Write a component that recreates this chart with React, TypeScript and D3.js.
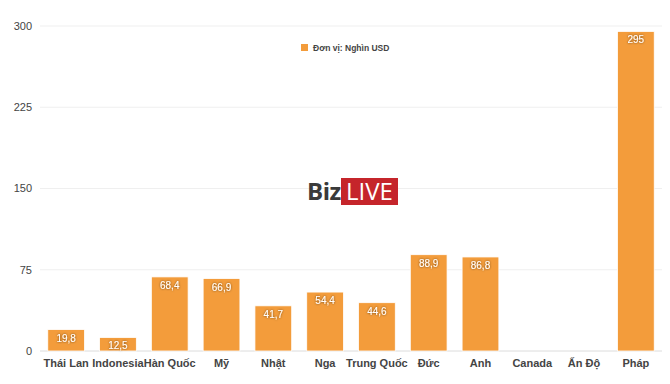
import React from "react";
import * as d3 from "d3";

const categories = ["Thái Lan", "Indonesia", "Hàn Quốc", "Mỹ", "Nhật", "Nga", "Trung Quốc", "Đức", "Anh", "Canada", "Ấn Độ", "Pháp"];
const values: (number | null)[] = [19.8, 12.5, 68.4, 66.9, 41.7, 54.4, 44.6, 88.9, 86.8, null, null, 295];
const yTicks = [0, 75, 150, 225, 300];
const legendLabel = "Đơn vị: Nghìn USD";

const W = 670, H = 384;
const margin = { left: 40, right: 8, top: 26, bottom: 33 };
const FONT = "'Liberation Sans', Arial, Helvetica, sans-serif";
const ORANGE = "#f39c3b";

export default function App() {
  const x = d3.scaleBand<string>().domain(categories).range([margin.left, W - margin.right]).paddingInner(0.29).paddingOuter(0.15);
  const y = d3.scaleLinear().domain([0, 300]).range([H - margin.bottom, margin.top]);
  const fmt = (v: number) => (Number.isInteger(v) ? String(v) : v.toFixed(1).replace(".", ","));
  return (
    <svg width={W} height={H} style={{ position: "absolute", left: 0, top: 0, fontFamily: FONT }}>
      <defs>
        <filter id="ts" x="-20%" y="-20%" width="140%" height="140%">
          <feDropShadow dx="0" dy="0" stdDeviation="0.8" floodColor="#000" floodOpacity="0.6" />
        </filter>
      </defs>
      <rect width={W} height={H} fill="#fff" />
      {yTicks.map((t) => (
        <g key={t}>
          <line x1={margin.left} x2={W - margin.right} y1={y(t)} y2={y(t)} stroke={t === 0 ? "#dcdcdc" : "#efefef"} strokeWidth={1} />
          <text x={32} y={y(t)} dy="0.35em" textAnchor="end" fontSize={11} fill="#444">{t}</text>
        </g>
      ))}
      {/* logo */}
      <g>
        <text x={307} y={200} fontSize={24} fontWeight="bold" fill="#3a3a3a" fontFamily="'Open Sans', sans-serif" letterSpacing={-0.5}>Biz</text>
        <rect x={341} y={178} width={57} height={27} fill="#c5252b" />
        <text x={369.5} y={200} fontSize={24} fill="#fff" textAnchor="middle" fontFamily="'Open Sans', sans-serif">LIVE</text>
      </g>
      {categories.map((c, i) => {
        const v = values[i];
        const bx = x(c)!;
        return (
          <g key={c}>
            {v != null && (
              <>
                <rect x={bx} y={y(v)} width={x.bandwidth()} height={y(0) - y(v)} fill={ORANGE} stroke="#fff" strokeWidth={0.8} />
                <text x={bx + x.bandwidth() / 2} y={y(v) + 12} textAnchor="middle" fontSize={10} fill="#fff" filter="url(#ts)">{fmt(v)}</text>
              </>
            )}
            <text x={bx + x.bandwidth() / 2} y={367} textAnchor="middle" fontSize={11} fontWeight="bold" fill="#444">{c}</text>
          </g>
        );
      })}
      <rect x={301} y={44} width={7} height={7} fill={ORANGE} />
      <text x={313} y={50.5} fontSize={8.5} fontWeight="bold" fill="#444">{legendLabel}</text>
    </svg>
  );
}
